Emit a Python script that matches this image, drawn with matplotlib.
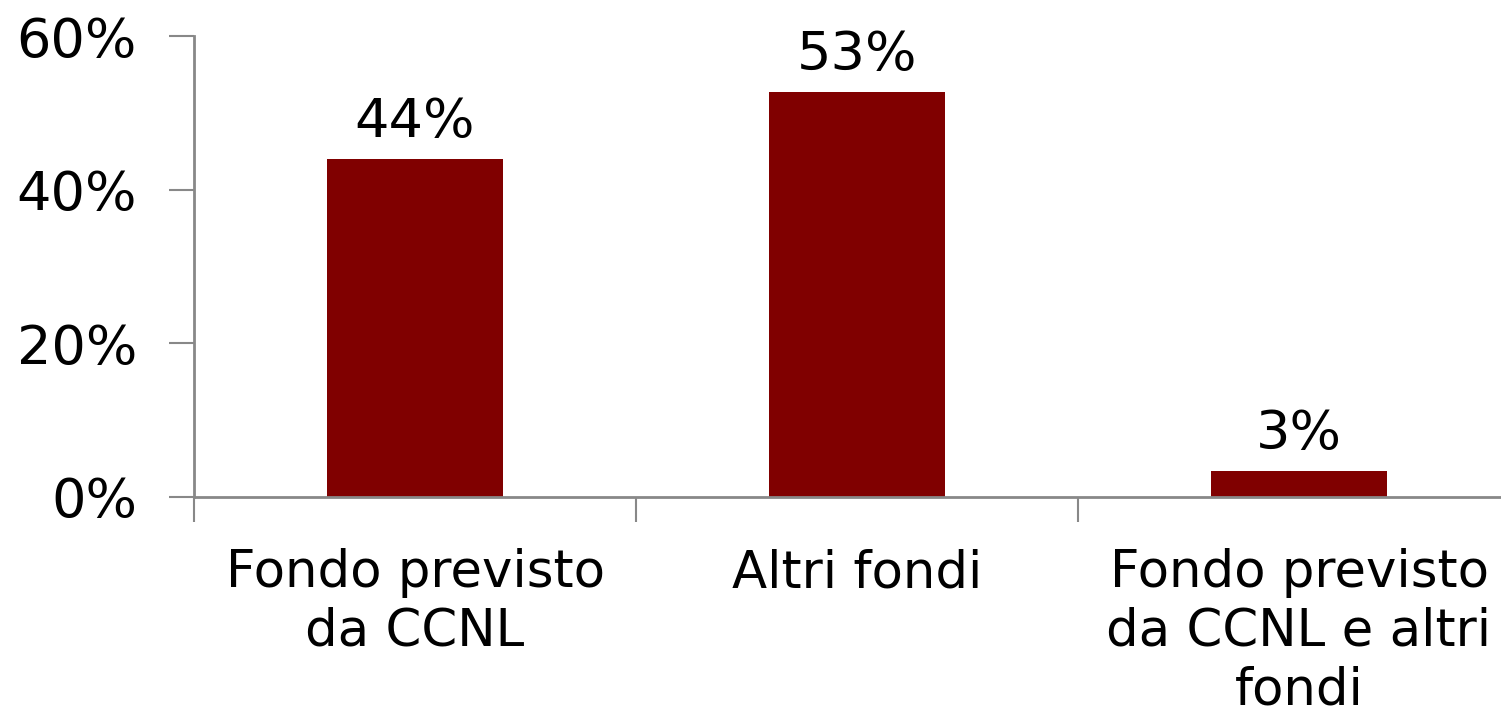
import matplotlib
matplotlib.use("Agg")
import matplotlib.pyplot as plt
from matplotlib.ticker import FuncFormatter

categories = ["Fondo previsto\nda CCNL", "Altri fondi", "Fondo previsto\nda CCNL e altri\nfondi"]
values = [0.44, 0.527, 0.034]
value_labels = ["44%", "53%", "3%"]
yticks = [0, 0.2, 0.4, 0.6]

plt.rcParams['font.family'] = ['DejaVu Sans']
fig = plt.figure(figsize=(15.01, 7.22), dpi=100)
ax = fig.add_axes([194/1501, 225/722, (1501-194)/1501, (497-36)/722])

x = list(range(len(categories)))
ax.bar(x, values, width=0.4, color='#800000', zorder=2)
for xi, v, lab in zip(x, values, value_labels):
    ax.text(xi, v + 0.014, lab, ha='center', va='bottom', fontsize=39, color='black')

ax.set_yticks(yticks)
ax.yaxis.set_major_formatter(FuncFormatter(lambda v, p: f"{v*100:.0f}%"))
ax.tick_params(axis='y', labelsize=39, length=18, width=1.5, color='#888888', pad=23)

ax.set_xticks([-0.5, 0.5, 1.5])
ax.set_xticklabels([])
ax.set_xticks(x, minor=True)
ax.set_xticklabels(categories, minor=True, fontsize=37, linespacing=1.22, va='top')
ax.tick_params(axis='x', which='major', length=18, width=1.5, color='#888888')
ax.tick_params(axis='x', which='minor', length=0, pad=37)

ax.set_xlim(-0.5, -0.5 + (1501-194)/442)
ax.set_ylim(0, 0.6)

for s in ['top', 'right']:
    ax.spines[s].set_visible(False)
for s in ['left', 'bottom']:
    ax.spines[s].set_color('#888888')
    ax.spines[s].set_linewidth(2)

fig.savefig("out.png", dpi=100)
